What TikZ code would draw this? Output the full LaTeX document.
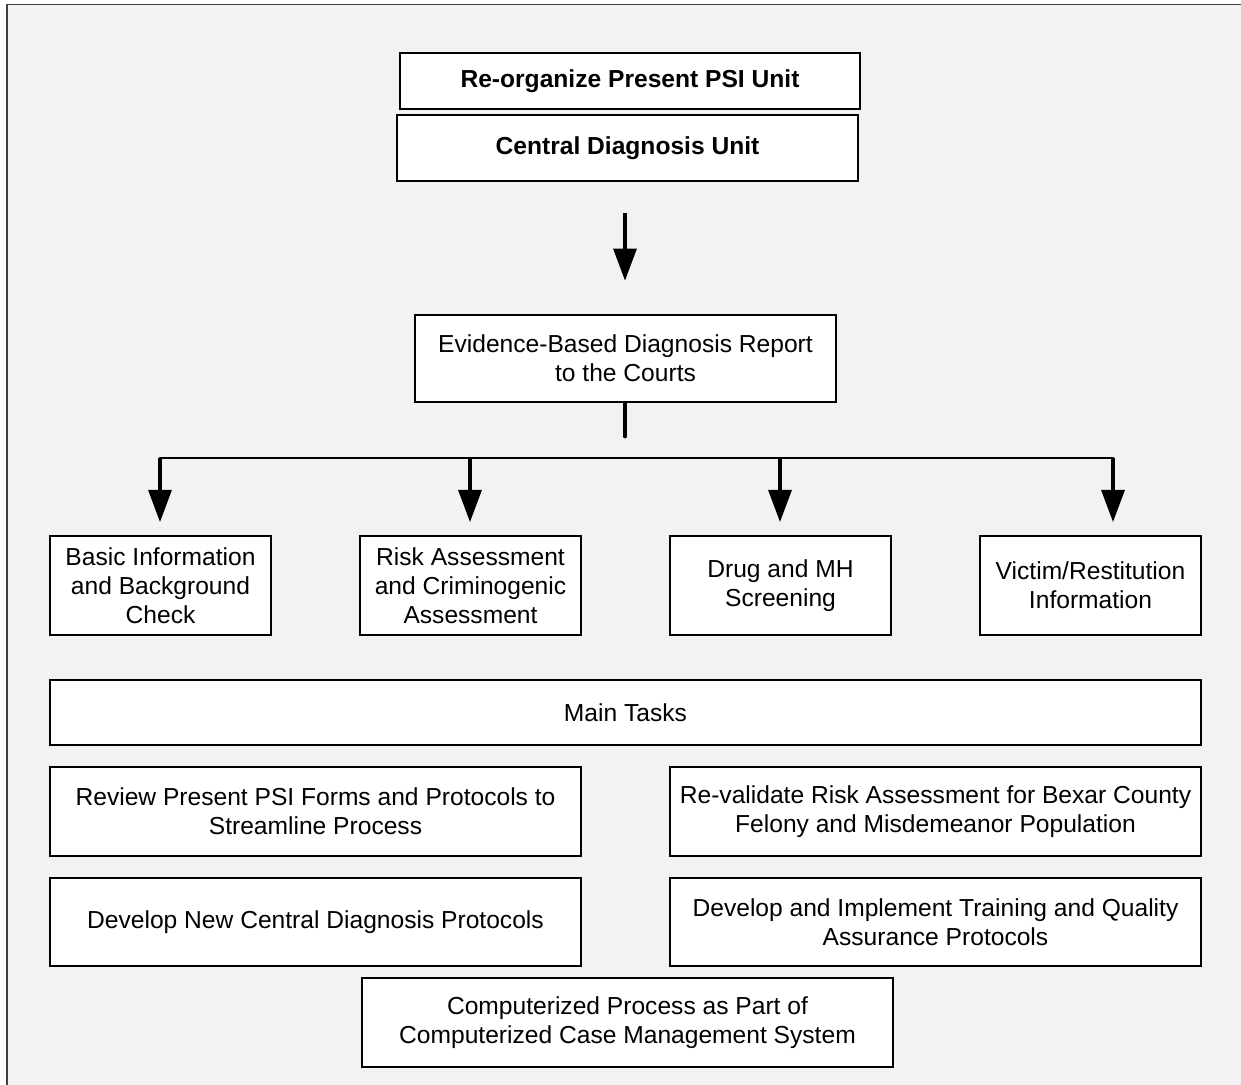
\documentclass[tikz,border=0pt]{standalone}
\usepackage{fontspec}
\setmainfont{Liberation Sans}
\usetikzlibrary{arrows.meta}

\begin{document}
\begin{tikzpicture}[
    x=0.02cm, y=-0.02cm,
    every node/.style={font=\fontsize{14}{16.4}\selectfont},
    box/.style={draw, fill=white, line width=0.75pt, align=center, inner sep=0pt},
    smallbox/.style={box, minimum width=4.42cm, minimum height=1.98cm},
    widebox/.style={box, minimum width=10.62cm, minimum height=1.78cm},
    bigarrow/.style={line width=2.8pt, -{Triangle[width=0.45cm,length=0.65cm]}}
]
\useasboundingbox (0,0) rectangle (1241,1085);
\fill[white] (0,0) rectangle (1241,1085);
\fill[black!5] (7,4.5) rectangle (1241,1085);
\draw[black!75, line width=1pt] (7,1085) -- (7,4.5) -- (1241,4.5);

% unit on top
\node[box, minimum width=9.2cm, minimum height=1.12cm] (reorg) at (630,81)
    {\bfseries Re-organize Present PSI Unit};
\node[box, minimum width=9.22cm, minimum height=1.32cm] (cdu) at (627.5,148)
    {\bfseries Central Diagnosis Unit};

\node[box, minimum width=8.42cm, minimum height=1.74cm] (report) at (625.5,358.5)
    {Evidence-Based Diagnosis Report\\to the Courts};

% report sections
\node[smallbox] (basic) at (160.5,585.5) {Basic Information\\and Background\\Check};
\node[smallbox] (risk) at (470.5,585.5) {Risk Assessment\\and Criminogenic\\Assessment};
\node[smallbox] (drug) at (780.5,585.5) {Drug and MH\\Screening};
\node[smallbox] (victim) at (1090.5,585.5) {Victim/Restitution\\Information};

% tasks
\node[box, minimum width=23.02cm, minimum height=1.3cm] (tasks) at (625.5,712.5) {Main Tasks};
\node[widebox] (review) at (315.5,811.5)
    {Review Present PSI Forms and Protocols to\\Streamline Process};
\node[widebox] (revalidate) at (935.5,811.5)
    {Re-validate Risk Assessment for Bexar County\\Felony and Misdemeanor Population};
\node[widebox, minimum height=1.76cm] (newproto) at (315.5,922)
    {Develop New Central Diagnosis Protocols};
\node[widebox, minimum height=1.76cm, line width=1.2pt] (training) at (935.5,922)
    {Develop and Implement Training and Quality\\Assurance Protocols};
\node[widebox] (computer) at (627.5,1022.5)
    {Computerized Process as Part of\\Computerized Case Management System};

% arrows
\coordinate (a1) at (625,213);
\coordinate (a2) at (625,281);
\draw[bigarrow] (a1) -- (a2);

\coordinate (s1) at (625,404);
\coordinate (s2) at (625,436);
\draw[line width=2.8pt, line cap=round] (s1) -- (s2);

\coordinate (b1) at (160,458);
\coordinate (b2) at (470,458);
\coordinate (b3) at (780,458);
\coordinate (b4) at (1113,458);
\draw[line width=1.7pt, line cap=round] (b1) -- (b4);
\foreach \b/\t in {b1/basic, b2/risk, b3/drug, b4/victim}
    \draw[bigarrow, shorten >=0.26cm] (\b) -- (\b |- \t.north);
\end{tikzpicture}
\end{document}
